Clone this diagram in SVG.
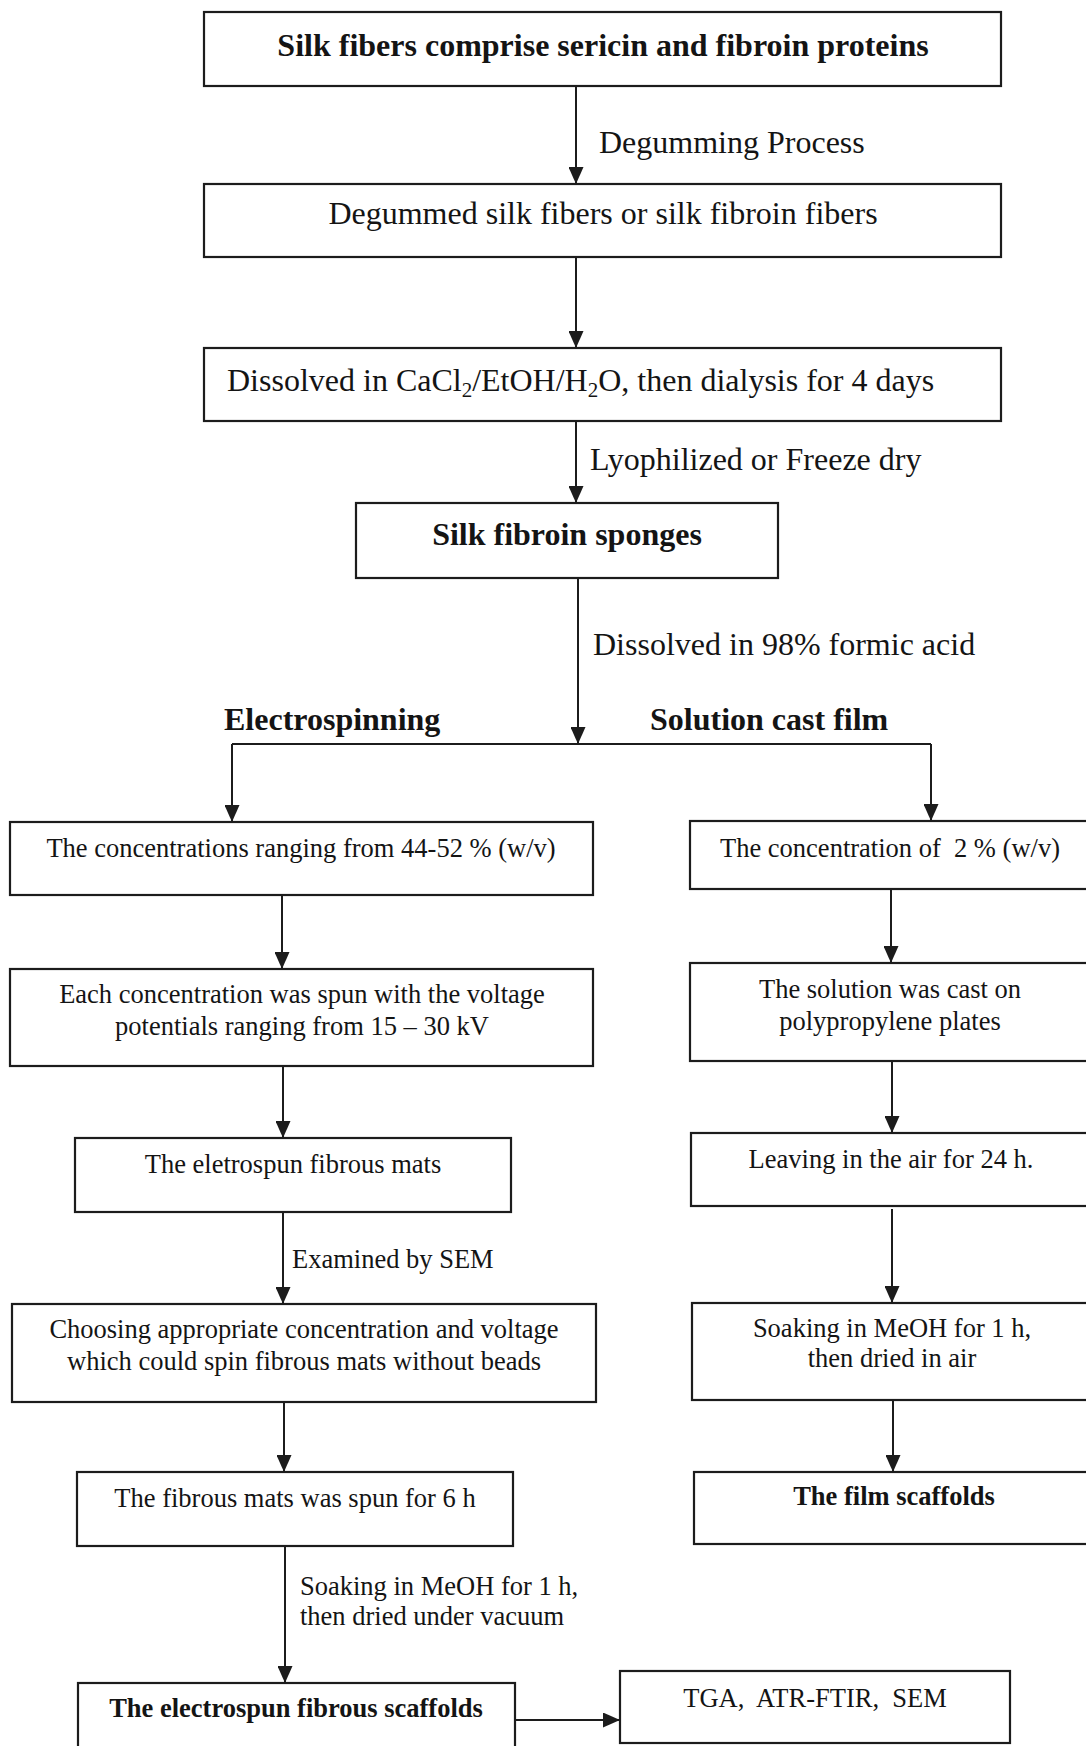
<svg xmlns="http://www.w3.org/2000/svg" width="1086" height="1746" viewBox="0 0 1086 1746">
<style>
.box{fill:none;stroke:#1c1c1c;stroke-width:2.2}
.t{font-family:"Liberation Serif","Times New Roman",serif;fill:#141414}
.big{font-size:32px}
.sm{font-size:26.5px}
.b{font-weight:bold}
.c{text-anchor:middle}
.ln{fill:none;stroke:#1c1c1c;stroke-width:2;marker-end:url(#ah)}
.pl{fill:none;stroke:#1c1c1c;stroke-width:2}
</style>
<defs>
<marker id="ah" markerUnits="userSpaceOnUse" markerWidth="17" markerHeight="15" refX="17" refY="7.5" orient="auto">
<path d="M0,0 L17,7.5 L0,15 z" fill="#1c1c1c"/>
</marker>
</defs>
<rect width="1086" height="1746" fill="#ffffff"/>

<g id="n1">
<rect class="box" x="204" y="12" width="797" height="74"/>
<text class="t big b c" x="603" y="56">Silk fibers comprise sericin and fibroin proteins</text>
</g>
<g id="n2">
<rect class="box" x="204" y="184" width="797" height="73"/>
<text class="t big c" x="603" y="224">Degummed silk fibers or silk fibroin fibers</text>
</g>
<g id="n3">
<rect class="box" x="204" y="348" width="797" height="73"/>
<text class="t big" x="227" y="391">Dissolved in CaCl<tspan font-size="21" dy="6">2</tspan><tspan dy="-6">/EtOH/H</tspan><tspan font-size="21" dy="6">2</tspan><tspan dy="-6">O, then dialysis for 4 days</tspan></text>
</g>
<g id="n4">
<rect class="box" x="356" y="503" width="422" height="75"/>
<text class="t big b c" x="567" y="545">Silk fibroin sponges</text>
</g>
<g id="lbl-branches">
<text class="t big b" x="224" y="730">Electrospinning</text>
<text class="t big b" x="650" y="730">Solution cast film</text>
</g>
<g id="n5">
<rect class="box" x="10" y="822" width="583" height="73"/>
<text class="t sm c" x="301" y="857">The concentrations ranging from 44-52 % (w/v)</text>
</g>
<g id="n6">
<rect class="box" x="10" y="969" width="583" height="97"/>
<text class="t sm c" x="302" y="1003">Each concentration was spun with the voltage</text>
<text class="t sm c" x="302" y="1035">potentials ranging from 15 – 30 kV</text>
</g>
<g id="n7">
<rect class="box" x="75" y="1138" width="436" height="74"/>
<text class="t sm c" x="293" y="1173">The eletrospun fibrous mats</text>
</g>
<g id="n8">
<rect class="box" x="12" y="1304" width="584" height="98"/>
<text class="t sm c" x="304" y="1338">Choosing appropriate concentration and voltage</text>
<text class="t sm c" x="304" y="1370">which could spin fibrous mats without beads</text>
</g>
<g id="n9">
<rect class="box" x="77" y="1472" width="436" height="74"/>
<text class="t sm c" x="295" y="1507">The fibrous mats was spun for 6 h</text>
</g>
<g id="n10">
<rect class="box" x="78" y="1683" width="437" height="80"/>
<text class="t sm b c" x="296" y="1717">The electrospun fibrous scaffolds</text>
</g>
<g id="n11">
<rect class="box" x="620" y="1671" width="390" height="72"/>
<text class="t sm c" x="815" y="1707" xml:space="preserve">TGA,  ATR-FTIR,  SEM</text>
</g>
<g id="r1">
<rect class="box" x="690" y="821" width="410" height="68"/>
<text class="t sm c" x="890" y="857" xml:space="preserve">The concentration of  2 % (w/v)</text>
</g>
<g id="r2">
<rect class="box" x="690" y="963" width="410" height="98"/>
<text class="t sm c" x="890" y="998">The solution was cast on</text>
<text class="t sm c" x="890" y="1030">polypropylene plates</text>
</g>
<g id="r3">
<rect class="box" x="691" y="1133" width="410" height="73"/>
<text class="t sm c" x="891" y="1168">Leaving in the air for 24 h.</text>
</g>
<g id="r4">
<rect class="box" x="692" y="1303" width="410" height="97"/>
<text class="t sm c" x="892" y="1337">Soaking in MeOH for 1 h,</text>
<text class="t sm c" x="892" y="1367">then dried in air</text>
</g>
<g id="r5">
<rect class="box" x="694" y="1472" width="410" height="72"/>
<text class="t sm b c" x="894" y="1505">The film scaffolds</text>
</g>

<g id="connectors">
<line class="ln" x1="576" y1="86" x2="576" y2="184"/>
<line class="ln" x1="576" y1="257" x2="576" y2="348"/>
<line class="ln" x1="576" y1="421" x2="576" y2="503"/>
<line class="ln" x1="578" y1="578" x2="578" y2="744"/>
<polyline class="pl" points="232,744 931,744"/>
<line class="ln" x1="232" y1="744" x2="232" y2="822"/>
<line class="ln" x1="931" y1="744" x2="931" y2="821"/>
<line class="ln" x1="282" y1="895" x2="282" y2="969"/>
<line class="ln" x1="283" y1="1066" x2="283" y2="1138"/>
<line class="ln" x1="283" y1="1212" x2="283" y2="1304"/>
<line class="ln" x1="284" y1="1402" x2="284" y2="1472"/>
<line class="ln" x1="285" y1="1546" x2="285" y2="1683"/>
<line class="ln" x1="515" y1="1720" x2="620" y2="1720"/>
<line class="ln" x1="891" y1="889" x2="891" y2="963"/>
<line class="ln" x1="892" y1="1061" x2="892" y2="1133"/>
<line class="ln" x1="892" y1="1209" x2="892" y2="1303"/>
<line class="ln" x1="893" y1="1400" x2="893" y2="1472"/>
</g>
<g id="connector-labels">
<text class="t big" x="599" y="153">Degumming Process</text>
<text class="t big" x="590" y="470">Lyophilized or Freeze dry</text>
<text class="t big" x="593" y="655">Dissolved in 98% formic acid</text>
<text class="t sm" x="292" y="1268">Examined by SEM</text>
<text class="t sm" x="300" y="1595">Soaking in MeOH for 1 h,</text>
<text class="t sm" x="300" y="1625">then dried under vacuum</text>
</g>
</svg>
